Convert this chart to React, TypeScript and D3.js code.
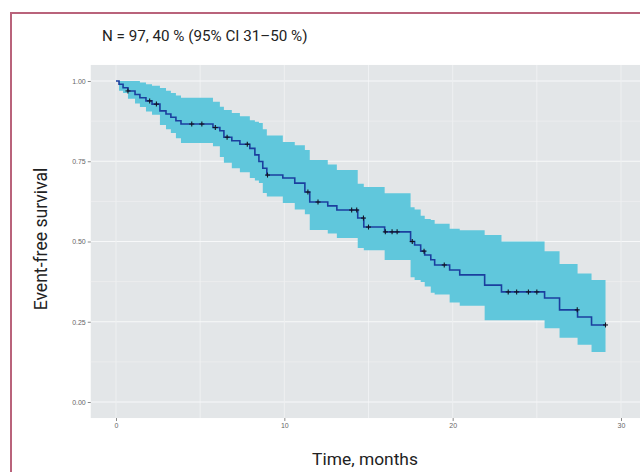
import React, { useRef, useEffect } from "react";
import * as d3 from "d3";

// step times (months) and KM estimate with 95% CI
const stepTimes = [
  0, 0.18, 0.42, 0.71, 1.13, 1.42, 1.78, 2.14, 2.61, 2.97, 3.26, 3.56, 3.86,
  5.76, 6.17, 6.41, 6.88, 7.36, 7.95, 8.25, 8.49, 8.72, 8.96, 9.91, 10.62,
  11.22, 11.51, 12.58, 13.12, 14.36, 14.72, 15.96, 17.5, 17.74, 18.1, 18.34,
  18.7, 18.93, 19.82, 20.42, 21.9, 22.9, 25.46, 26.35, 27.42, 28.25,
];
const survival = [
  1.0, 0.99, 0.979, 0.969, 0.958, 0.948, 0.938, 0.928, 0.907, 0.897, 0.887,
  0.876, 0.866, 0.855, 0.845, 0.825, 0.814, 0.803, 0.79, 0.77, 0.749, 0.728,
  0.707, 0.698, 0.682, 0.654, 0.623, 0.611, 0.598, 0.573, 0.545, 0.53, 0.5,
  0.489, 0.47, 0.458, 0.443, 0.427, 0.411, 0.396, 0.364, 0.343, 0.324, 0.287,
  0.265, 0.24,
];
const upperCI = [
  1.0, 1.0, 1.0, 1.0, 1.0, 0.995, 0.99, 0.985, 0.978, 0.97, 0.963, 0.955,
  0.948, 0.935, 0.92, 0.91, 0.9, 0.89, 0.878, 0.873, 0.869, 0.85, 0.83, 0.81,
  0.8, 0.785, 0.754, 0.74, 0.723, 0.68, 0.67, 0.65, 0.607, 0.6, 0.58, 0.57,
  0.567, 0.555, 0.54, 0.535, 0.52, 0.5, 0.47, 0.43, 0.4, 0.38,
];
const lowerCI = [
  1.0, 0.97, 0.963, 0.945, 0.93, 0.919, 0.905, 0.895, 0.863, 0.85, 0.838,
  0.822, 0.807, 0.797, 0.763, 0.745, 0.728, 0.716, 0.698, 0.69, 0.682, 0.651,
  0.64, 0.62, 0.6, 0.585, 0.536, 0.525, 0.511, 0.48, 0.473, 0.442, 0.389,
  0.38, 0.374, 0.36, 0.34, 0.335, 0.31, 0.3, 0.255, 0.255, 0.23, 0.2, 0.178,
  0.156,
];
const endTime = 29.08;
const censorTimes = [
  0.71, 2.0, 2.4, 4.5, 5.1, 5.9, 6.6, 7.8, 9.0, 11.4, 12.0, 14.0, 14.3, 14.7,
  15.0, 16.0, 16.4, 16.7, 17.6, 18.3, 19.5, 23.3, 23.8, 24.5, 25.0, 27.4, 29.08,
];
const xTicks = [0, 10, 20, 30];
const xMinor = [5, 15, 25];
const yTicks = [0, 0.25, 0.5, 0.75, 1.0];
const yMinor = [0.125, 0.375, 0.625, 0.875];

const KMChart = () => {
  const ref = useRef(null);

  useEffect(() => {
    const svg = d3.select(ref.current);
    svg.selectAll("*").remove();

    const W = 640;
    const H = 472;
    svg.attr("width", W).attr("height", H);

    const x = d3.scaleLinear().domain([0, 30]).range([116, 621]);
    const y = d3.scaleLinear().domain([0, 1]).range([402, 81]);
    const panel = { left: x(-1.5), right: x(31.5), top: y(1.05), bottom: y(-0.05) };

    // frame
    svg
      .append("path")
      .attr("d", `M11,${H} L11,13 L${W},13`)
      .attr("fill", "none")
      .attr("stroke", "#b9637b")
      .attr("stroke-width", 2);

    // panel
    svg
      .append("rect")
      .attr("x", panel.left)
      .attr("y", panel.top)
      .attr("width", panel.right - panel.left)
      .attr("height", panel.bottom - panel.top)
      .attr("fill", "#e3e6e8");

    const grid = svg.append("g");
    grid
      .selectAll(".ymin")
      .data(yMinor)
      .enter()
      .append("line")
      .attr("x1", panel.left)
      .attr("x2", panel.right)
      .attr("y1", (d) => y(d))
      .attr("y2", (d) => y(d))
      .attr("stroke", "#f1f2f3")
      .attr("stroke-width", 0.6);
    grid
      .selectAll(".xmin")
      .data(xMinor)
      .enter()
      .append("line")
      .attr("y1", panel.top)
      .attr("y2", panel.bottom)
      .attr("x1", (d) => x(d))
      .attr("x2", (d) => x(d))
      .attr("stroke", "#f3f4f5")
      .attr("stroke-width", 0.8);
    grid
      .selectAll(".ymaj")
      .data(yTicks)
      .enter()
      .append("line")
      .attr("x1", panel.left)
      .attr("x2", panel.right)
      .attr("y1", (d) => y(d))
      .attr("y2", (d) => y(d))
      .attr("stroke", "#f7f8f9")
      .attr("stroke-width", 1.1);
    grid
      .selectAll(".xmaj")
      .data(xTicks)
      .enter()
      .append("line")
      .attr("y1", panel.top)
      .attr("y2", panel.bottom)
      .attr("x1", (d) => x(d))
      .attr("x2", (d) => x(d))
      .attr("stroke", "#eef0f1")
      .attr("stroke-width", 1);

    const pts = stepTimes.map((t, i) => ({
      t,
      s: survival[i],
      lo: lowerCI[i],
      hi: upperCI[i],
    }));
    const last = pts[pts.length - 1];
    const full = [...pts, { ...last, t: endTime }];

    const area = d3
      .area()
      .curve(d3.curveStepAfter)
      .x((d) => x(d.t))
      .y0((d) => y(d.lo))
      .y1((d) => y(d.hi));
    svg.append("path").datum(full).attr("d", area).attr("fill", "#60c7dc");

    const line = d3
      .line()
      .curve(d3.curveStepAfter)
      .x((d) => x(d.t))
      .y((d) => y(d.s));
    svg
      .append("path")
      .datum(full)
      .attr("d", line)
      .attr("fill", "none")
      .attr("stroke", "#1b3f9e")
      .attr("stroke-width", 1.6);

    const survAt = (t) => {
      let s = 1;
      for (let i = 0; i < stepTimes.length; i++) if (stepTimes[i] <= t) s = survival[i];
      return s;
    };
    const cens = svg.append("g").attr("stroke", "#141422").attr("stroke-width", 1.1);
    censorTimes.forEach((t) => {
      const cx = x(t);
      const cy = y(survAt(t));
      cens.append("line").attr("x1", cx - 2.5).attr("x2", cx + 2.5).attr("y1", cy).attr("y2", cy);
      cens.append("line").attr("x1", cx).attr("x2", cx).attr("y1", cy - 2.5).attr("y2", cy + 2.5);
    });

    // axes
    const yAxis = svg
      .append("g")
      .attr("transform", `translate(${panel.left},0)`)
      .call(d3.axisLeft(y).tickValues(yTicks).tickSize(3).tickPadding(2).tickFormat(d3.format(".2f")));
    yAxis.select(".domain").remove();
    yAxis.selectAll("line").attr("stroke", "#888");
    yAxis
      .selectAll("text")
      .style("font-family", "Arial, Liberation Sans, sans-serif")
      .style("font-size", "7px")
      .attr("fill", "#666");

    const xAxis = svg
      .append("g")
      .attr("transform", `translate(0,${panel.bottom})`)
      .call(d3.axisBottom(x).tickValues(xTicks).tickSize(3).tickPadding(2));
    xAxis.select(".domain").remove();
    xAxis.selectAll("line").attr("stroke", "#888");
    xAxis
      .selectAll("text")
      .style("font-family", "Arial, Liberation Sans, sans-serif")
      .style("font-size", "7px")
      .attr("fill", "#666");

    // titles
    svg
      .append("text")
      .attr("x", 102)
      .attr("y", 41)
      .style("font-family", "Roboto, sans-serif")
      .style("font-size", "15.2px")
      .attr("fill", "#222")
      .text("N = 97, 40 % (95% CI 31–50 %)");

    svg
      .append("text")
      .attr("transform", `translate(47,239) rotate(-90)`)
      .attr("text-anchor", "middle")
      .style("font-family", "Roboto, sans-serif")
      .style("font-size", "17.6px")
      .attr("fill", "#222")
      .text("Event-free survival");

    svg
      .append("text")
      .attr("x", 365)
      .attr("y", 465)
      .attr("text-anchor", "middle")
      .style("font-family", "Roboto, sans-serif")
      .style("font-size", "17.4px")
      .attr("fill", "#222")
      .text("Time, months");
  }, []);

  return (
    <div style={{ position: "absolute", left: 0, top: 0, width: 640, height: 472, overflow: "hidden", background: "#fff" }}>
      <svg ref={ref} style={{ display: "block" }} />
    </div>
  );
};

export default function App() {
  return <KMChart />;
}
